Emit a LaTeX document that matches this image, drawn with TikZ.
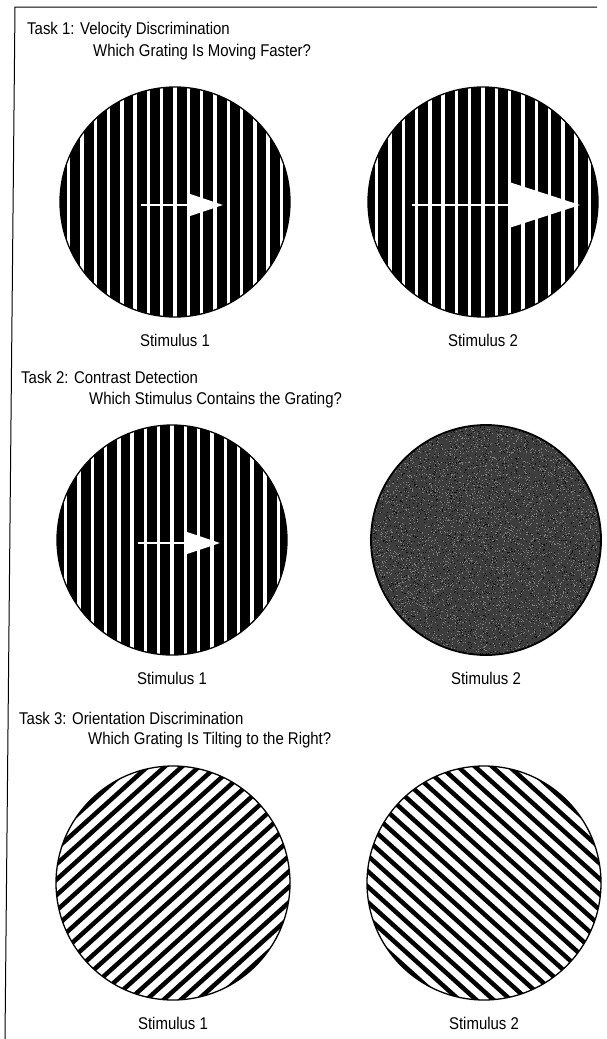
\documentclass[tikz,border=0pt]{standalone}
\usepackage{fontspec}
\setmainfont{Liberation Sans}[FakeStretch=0.88]
\usetikzlibrary{positioning,arrows.meta}

\newcommand{\taskfont}{\fontsize{17pt}{20pt}\selectfont}

\begin{document}
\begin{tikzpicture}[
    x=1pt, y=-1pt,
    node distance=16pt,
    tasktitle/.style={anchor=west, inner sep=0pt, font=\taskfont},
    question/.style={anchor=west, inner sep=0pt, font=\taskfont},
    stimlabel/.style={inner sep=0pt, font=\taskfont},
    disc/.style={circle, draw, line width=1.3pt, inner sep=0pt, minimum size=230pt},
    vgrating/.style={disc, path picture={
        \fill[black] (path picture bounding box.south west) rectangle (path picture bounding box.north east);
        \foreach \k in {-9,...,9}
          \fill[white] ([xshift=\k*13.3pt-1.7pt]path picture bounding box.south) rectangle ([xshift=\k*13.3pt+1.7pt]path picture bounding box.north);
    }},
    dgrating/.style={disc, minimum size=234pt, path picture={
        \foreach \k in {-12,...,12}
          \draw[line width=4.5pt]
            ([xshift={(0-(\k)*11.5*sin(#1)-130*cos(#1))*1pt}, yshift={((\k)*11.5*cos(#1)-130*sin(#1))*1pt}]path picture bounding box.center) --
            ([xshift={(0-(\k)*11.5*sin(#1)+130*cos(#1))*1pt}, yshift={((\k)*11.5*cos(#1)+130*sin(#1))*1pt}]path picture bounding box.center);
    }},
    noisedisc/.style={disc, line width=1.8pt, path picture={
        \fill[black!76] (path picture bounding box.south west) rectangle (path picture bounding box.north east);
        \pgfmathsetseed{42}
        \foreach \n in {1,...,5000}
          \fill[black!52] ([xshift=rand*115pt, yshift=rand*115pt]path picture bounding box.center) rectangle ++(1pt,1pt);
        \foreach \n in {1,...,3000}
          \fill[black!94] ([xshift=rand*115pt, yshift=rand*115pt]path picture bounding box.center) rectangle ++(1pt,1pt);
    }},
    slowarrow/.style={white, line width=1.5pt, -{Triangle[length=35pt, width=23pt]}},
    fastarrow/.style={white, line width=1.5pt, -{Triangle[length=70pt, width=45pt]}}
]
\useasboundingbox (0,0) rectangle (607,1039);

% frame
\draw[line width=1pt] (5,1039) -- (15,7) -- (597,7);

% Task 1
\node[tasktitle] (t1) at (27,30) {Task 1: Velocity Discrimination};
\node[question] (q1) at (93,52) {Which Grating Is Moving Faster?};
\node[vgrating] (s1a) at (175,202) {};
\node[vgrating] (s1b) at (483,202) {};
\draw[slowarrow] ([xshift=-34pt, yshift=-3pt]s1a.center) -- ([xshift=48pt, yshift=-3pt]s1a.center);
\draw[fastarrow] ([xshift=-71pt, yshift=-3pt]s1b.center) -- ([xshift=97pt, yshift=-3pt]s1b.center);
\node[stimlabel, below=of s1a] (l1a) {Stimulus 1};
\node[stimlabel, below=of s1b] (l1b) {Stimulus 2};

% Task 2
\node[tasktitle] (t2) at (21,377) {Task 2: Contrast Detection};
\node[question] (q2) at (89,400) {Which Stimulus Contains the Grating?};
\node[vgrating] (s2a) at (172,540) {};
\node[noisedisc] (s2b) at (486,540) {};
\draw[slowarrow] ([xshift=-34pt, yshift=-3pt]s2a.center) -- ([xshift=48pt, yshift=-3pt]s2a.center);
\node[stimlabel, below=of s2a] (l2a) {Stimulus 1};
\node[stimlabel, below=of s2b] (l2b) {Stimulus 2};

% Task 3
\node[tasktitle] (t3) at (19,718) {Task 3: Orientation Discrimination};
\node[question] (q3) at (88,740) {Which Grating Is Tilting to the Right?};
\node[dgrating=42] (s3a) at (173,883) {};
\node[dgrating=-42] (s3b) at (484,883) {};
\node[stimlabel, below=of s3a] (l3a) {Stimulus 1};
\node[stimlabel, below=of s3b] (l3b) {Stimulus 2};

\end{tikzpicture}
\end{document}
